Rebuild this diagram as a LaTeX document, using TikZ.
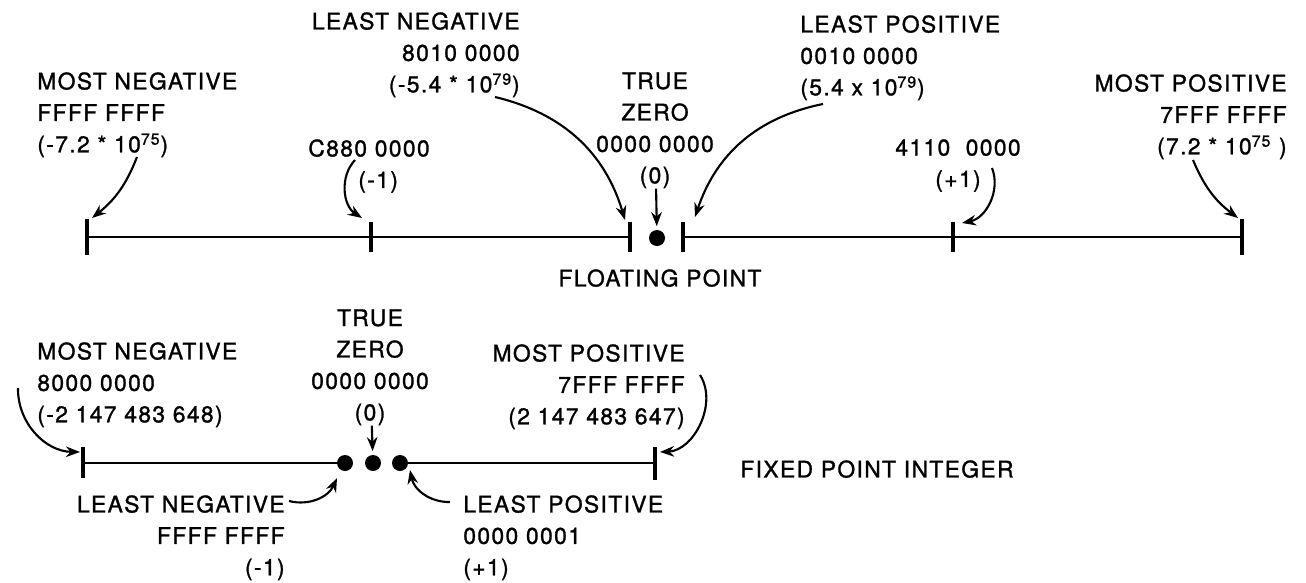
\documentclass[tikz,border=0pt]{standalone}
\usepackage{fontspec}
\setmainfont{TeX Gyre Heros}[LetterSpace=6,FakeBold=1.2]
\usetikzlibrary{arrows.meta}

\tikzset{
	lbl/.style={font=\fontsize{13}{17.9}\selectfont,inner sep=0pt},
	axisline/.style={line width=1.5pt},
	tickmark/.style={line width=1.9pt},
	ptr/.style={line width=1.2pt,-{Stealth[length=8pt,width=6pt]}},
	zdot/.style={circle,fill,inner sep=0pt,minimum size=0.32cm}
}

\begin{document}
\begin{tikzpicture}[x=0.02cm,y=0.02cm]
	\useasboundingbox (0,0) rectangle (1306,-582);
	% floating point
	\begin{scope}[every node/.style={lbl}]
	\node[anchor=north west,align=left] (MNF) at (37,-72) {MOST NEGATIVE\\FFFF FFFF\\(-7.2 * 10\textsuperscript{75})};
	\node[anchor=north west,align=left] (C880) at (308,-139) {C880 0000\\\hspace*{1cm}(-1)};
	\node[anchor=north east,align=right] (LNF) at (520,-12) {LEAST NEGATIVE\\8010 0000\\(-5.4 * 10\textsuperscript{79})};
	\node[anchor=north,align=center] (TZF) at (655,-72) {TRUE\\ZERO\\0000 0000\\(0)};
	\node[anchor=north west,align=left] (LPF) at (800,-15) {LEAST POSITIVE\\0010 0000\\(5.4 x 10\textsuperscript{79})};
	\node[anchor=north,align=center] (P4110) at (958,-139) {4110\ \ 0000\\(+1)};
	\node[anchor=north east,align=right] (MPF) at (1287,-74) {MOST POSITIVE\\7FFF FFFF\\(7.2 * 10\textsuperscript{75} )};
	\node[anchor=north] (FP) at (660,-269) {FLOATING POINT};
	\end{scope}
	\draw [axisline] (87,-237) -- (630,-237);
	\draw [axisline] (683,-237) -- (1242,-237);
	\foreach \x/\h in {87/18,371/15,630/15,683/15,953/15,1242/18}
		\draw [tickmark] (\x,{-237+\h}) -- (\x,{-237-\h});
	\node[zdot] (ZF) at (657,-238) {};
	\coordinate (a1) at (137,-157);  \coordinate (b1) at (92,-218);
	\coordinate (a2) at (355,-160);  \coordinate (b2) at (362,-218);
	\coordinate (a3) at (495,-97);   \coordinate (b3) at (625,-220);
	\coordinate (a5) at (823,-104);  \coordinate (b5) at (695,-217);
	\coordinate (a6) at (992,-168);  \coordinate (b6) at (962,-223);
	\coordinate (a7) at (1193,-160); \coordinate (b7) at (1238,-218);
	\draw [ptr] (a1) to [bend left=15] (b1);
	\draw [ptr] (a2) to [bend right=50] (b2);
	\draw [ptr] (a3) to [bend left=30] (b3);
	\draw [ptr,shorten >=2pt] (TZF) -- (ZF);
	\draw [ptr] (a5) to [bend right=30] (b5);
	\draw [ptr] (a6) to [bend left=50] (b6);
	\draw [ptr] (a7) to [bend right=15] (b7);
	% fixed point integer
	\begin{scope}[every node/.style={lbl}]
	\node[anchor=north west,align=left] (MNI) at (37,-342) {MOST NEGATIVE\\8000 0000\\(-2 147 483 648)};
	\node[anchor=north,align=center] (TZI) at (370,-309) {TRUE\\ZERO\\0000 0000\\(0)};
	\node[anchor=north east,align=right] (MPI) at (685,-344) {MOST POSITIVE\\7FFF FFFF\\(2 147 483 647)};
	\node[anchor=north east,align=right] (LNI) at (285,-495) {LEAST NEGATIVE\\FFFF FFFF\\(-1)};
	\node[anchor=north west,align=left] (LPI) at (463,-495) {LEAST POSITIVE\\0000 0001\\(+1)};
	\node[anchor=north west] (FPI) at (740,-460) {FIXED POINT INTEGER};
	\end{scope}
	\node[zdot] (D1) at (345,-463) {};
	\node[zdot] (D2) at (373,-463) {};
	\node[zdot] (D3) at (400,-463) {};
	\draw [axisline] (83,-463) -- (D1);
	\draw [axisline] (D3) -- (655,-463);
	\draw [tickmark] (83,-447) -- (83,-478);
	\draw [tickmark] (655,-447) -- (655,-480);
	\coordinate (c1) at (18,-388);  \coordinate (d1) at (80,-452);
	\coordinate (c3) at (700,-375); \coordinate (d3) at (660,-452);
	\coordinate (c4) at (289,-501); \coordinate (d4) at (337,-478);
	\coordinate (c5) at (450,-502); \coordinate (d5) at (410,-470);
	\draw [ptr] (c1) to [bend right=45] (d1);
	\draw [ptr,shorten >=2pt] (TZI) -- (D2);
	\draw [ptr] (c3) to [bend left=60] (d3);
	\draw [ptr] (c4) to [bend right=40] (d4);
	\draw [ptr] (c5) to [bend left=40] (d5);
\end{tikzpicture}
\end{document}
